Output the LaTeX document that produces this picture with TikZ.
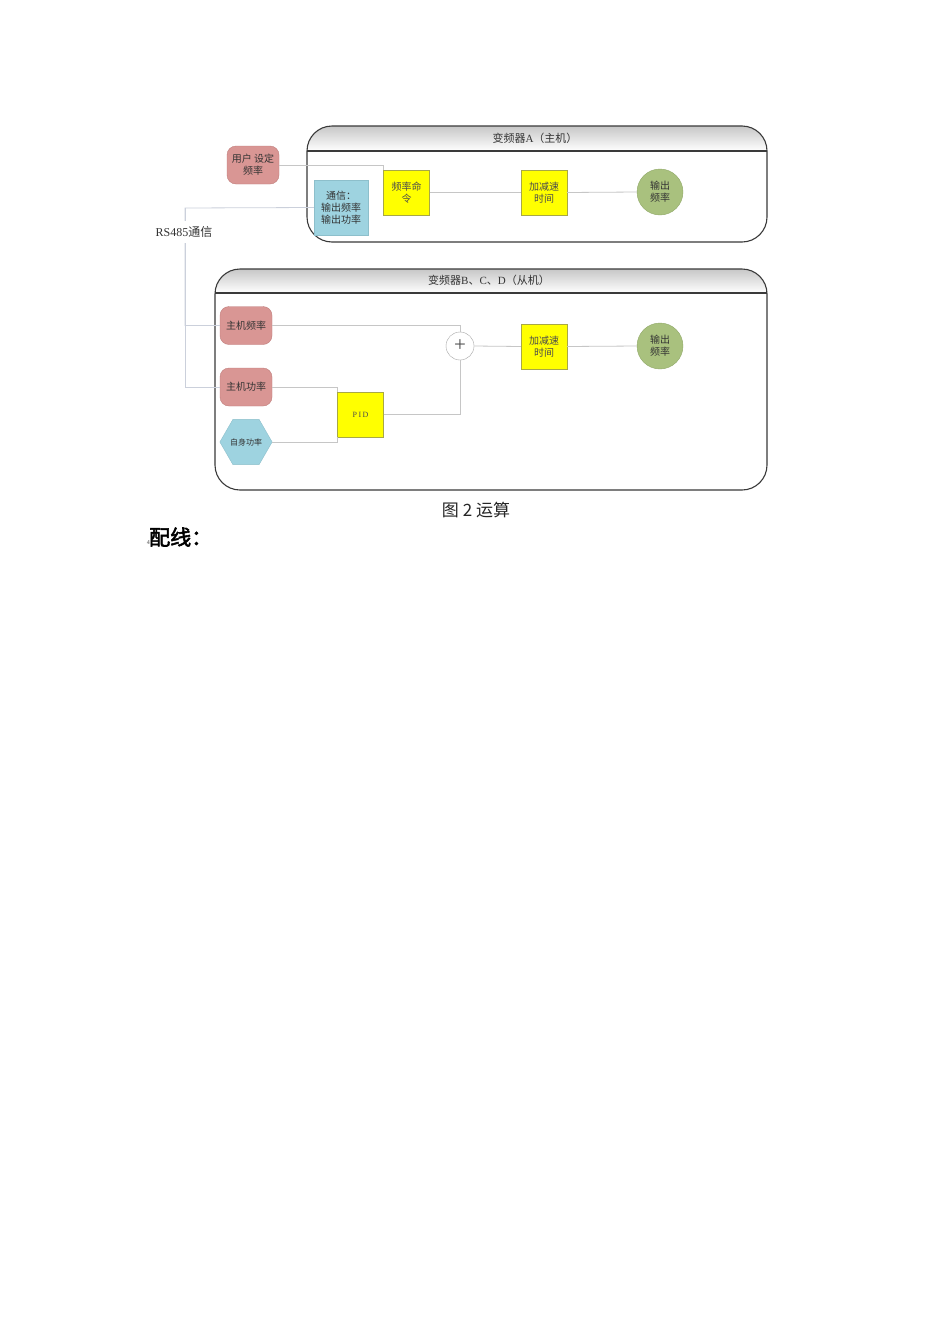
\documentclass[tikz,border=0pt]{standalone}
\usepackage{fontspec}
\setmainfont{Liberation Serif}
\newfontfamily\cjk{Noto Sans CJK SC}
\newfontfamily\cjkb[AutoFakeBold=2.5]{Noto Sans CJK SC}
\usetikzlibrary{shapes.geometric,calc}
\definecolor{rose}{HTML}{D99694}
\definecolor{roseline}{HTML}{C07E7C}
\definecolor{cyanfill}{HTML}{9ED3E0}
\definecolor{cyanline}{HTML}{8DBFCB}
\definecolor{yel}{HTML}{FFFF00}
\definecolor{yelline}{HTML}{A8A845}
\definecolor{grn}{HTML}{A9C17E}
\definecolor{grnline}{HTML}{90A868}
\definecolor{conncol}{HTML}{C6C6C6}
\definecolor{rscol}{HTML}{CBD0DB}
\definecolor{frame}{HTML}{3A3A3A}
\tikzset{
  txt/.style={font=\cjk\fontsize{10}{12}\selectfont, text=black!80, align=center},
  rosebox/.style={txt, rectangle, rounded corners=9pt, fill=rose, draw=roseline, minimum width=52pt, minimum height=38pt, inner sep=1pt},
  bluebox/.style={txt, rectangle, fill=cyanfill, draw=cyanline, minimum width=54pt, minimum height=55pt, inner sep=1pt},
  yelbox/.style={txt, rectangle, fill=yel, draw=yelline, minimum width=46pt, minimum height=45pt, inner sep=1pt, text=black!70},
  grncirc/.style={txt, circle, fill=grn, draw=grnline, minimum size=46pt, inner sep=0pt},
  hexa/.style={txt, regular polygon, regular polygon sides=6, fill=cyanfill, draw=cyanline, minimum size=52pt, inner sep=0pt, font=\cjk\fontsize{8}{10}\selectfont},
  sumcirc/.style={circle, fill=white, draw=black!35, minimum size=28pt, inner sep=0pt, font=\fontsize{21}{21}\selectfont, text=black!70},
  conn/.style={draw=conncol, line width=0.8pt},
  rsline/.style={draw=rscol, line width=0.8pt},
  framebox/.style={draw=frame, line width=1.1pt, rounded corners=25pt},
  title/.style={font=\fontsize{11}{13}\selectfont, text=black!80},
}
\begin{document}
\begin{tikzpicture}[x=1pt,y=-1pt]
\useasboundingbox[fill=white] (0,0) rectangle (950,1344);

% Container A
\begin{scope}
\clip[rounded corners=25pt] (307,126) rectangle (767,242);
\shade[top color=black!22, bottom color=white] (307,126) rectangle (767,151);
\end{scope}
\draw[frame, line width=1.1pt] (307,151) -- (767,151);
\draw[framebox] (307,126) rectangle (767,242);
\node[title] (titleA) at (535,138) {{\cjk 变频器}A{\cjk （主机）}};

% Container B
\begin{scope}
\clip[rounded corners=25pt] (215,269) rectangle (767,490);
\shade[top color=black!22, bottom color=white] (215,269) rectangle (767,293);
\end{scope}
\draw[frame, line width=1.1pt] (215,293) -- (767,293);
\draw[framebox] (215,269) rectangle (767,490);
\node[title] (titleB) at (489,280) {{\cjk 变频器}B{\cjk 、}C{\cjk 、}D{\cjk （从机）}};

% Nodes A
\node[rosebox] (user) at (253,165) {用户 设定\\频率};
\node[bluebox] (comm) at (341,207.5) {通信：\\输出频率\\输出功率};
\node[yelbox] (freqcmd) at (406.5,192.5) {频率命\\令};
\node[yelbox] (accelA) at (544,192.5) {加减速\\时间};
\node[grncirc] (outA) at (660,192) {输出\\频率};

% Nodes B
\node[rosebox] (mfreq) at (246,325.5) {主机频率};
\node[rosebox] (mpow) at (246,387) {主机功率};
\node[hexa] (self) at (246,442) {自身功率};
\node[yelbox, font=\fontsize{8}{10}\selectfont] (pid) at (360.5,414.5) {P\,I\,D};
\node[sumcirc] (sum) at (460,346) {+};
\node[yelbox] (accelB) at (544,346.5) {加减速\\时间};
\node[grncirc] (outB) at (660,346) {输出\\频率};

% Connectors A
\draw[conn] (user.east) -| (freqcmd.north west);
\draw[conn] (freqcmd.east) -- (accelA.west);
\draw[conn] (accelA.east) -- (outA.west);

% RS485
\coordinate (rsbend) at (185,208);
\draw[rsline] (comm.west) -- (rsbend) |- (mfreq.west);
\draw[rsline] (rsbend) |- (mpow.west);
\node[fill=white, inner xsep=1pt, inner ysep=5pt, font=\fontsize{12}{14}\selectfont, text=black!80] (rslabel) at (184,232) {RS485{\cjk 通信}};

% Connectors B
\draw[conn] (mfreq.east) -| (sum.north);
\draw[conn] (mpow.east) -| (pid.north west);
\draw[conn] (self.east) -| (pid.south west);
\draw[conn] (pid.east) -| (sum.south);
\draw[conn] (sum.east) -- (accelB.west);
\draw[conn] (accelB.east) -- (outB.west);

% Caption and heading
\node[font=\cjk\fontsize{17}{20}\selectfont, text=black!85] (caption) at (476,510) {图 2 运算};
\node[font=\cjkb\bfseries\fontsize{21}{24}\selectfont, anchor=west, inner sep=0pt] (heading) at (149,537) {配线：};
\node[font=\fontsize{6}{7}\selectfont, anchor=east, inner sep=0pt, text=black!70] (num) at (150,543) {4};
\end{tikzpicture}
\end{document}
